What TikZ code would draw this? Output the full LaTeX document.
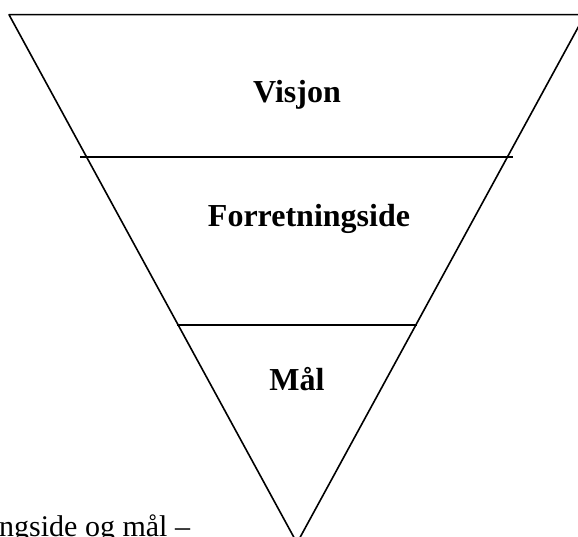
\documentclass[tikz,border=0pt]{standalone}
\usepackage{fontspec}
\setmainfont{Liberation Serif}

\tikzset{
    levelline/.style={black, line width=1.6pt},
    levellabel/.style={font=\fontsize{32}{38}\selectfont\bfseries, anchor=base},
}

\begin{document}
\begin{tikzpicture}[x=1pt, y=1pt, line join=round]

        % page frame
        \useasboundingbox (0,0) rectangle (578,537);
        \clip (0,0) rectangle (578,537);

        % corners of the funnel
        \coordinate (topleft) at (9,522.3);
        \coordinate (topright) at (585,522.3);
        \coordinate (apex) at (297,-6);

        % the funnel itself
        \draw[levelline] (topleft) -- (topright) -- (apex) -- cycle;

        % dividing lines
        \coordinate (cutaleft) at (80,380);
        \coordinate (cutaright) at (513,380);
        \coordinate (cutbleft) at (177,212);
        \coordinate (cutbright) at (417,212);
        \draw[levelline] (cutaleft) -- (cutaright);
        \draw[levelline] (cutbleft) -- (cutbright);

        % level labels
        \node[levellabel] (visjon) at (297,434) {Visjon};
        \node[levellabel] (forretning) at (309,310) {Forretningside};
        \node[levellabel] (maal) at (297,146) {Mål};

        % text below, cut at the page edge
        \node[anchor=base west, inner sep=0pt, font=\fontsize{30}{36}\selectfont] (caption) at (-1,0) {ngside og mål –};

    \end{tikzpicture}
\end{document}
